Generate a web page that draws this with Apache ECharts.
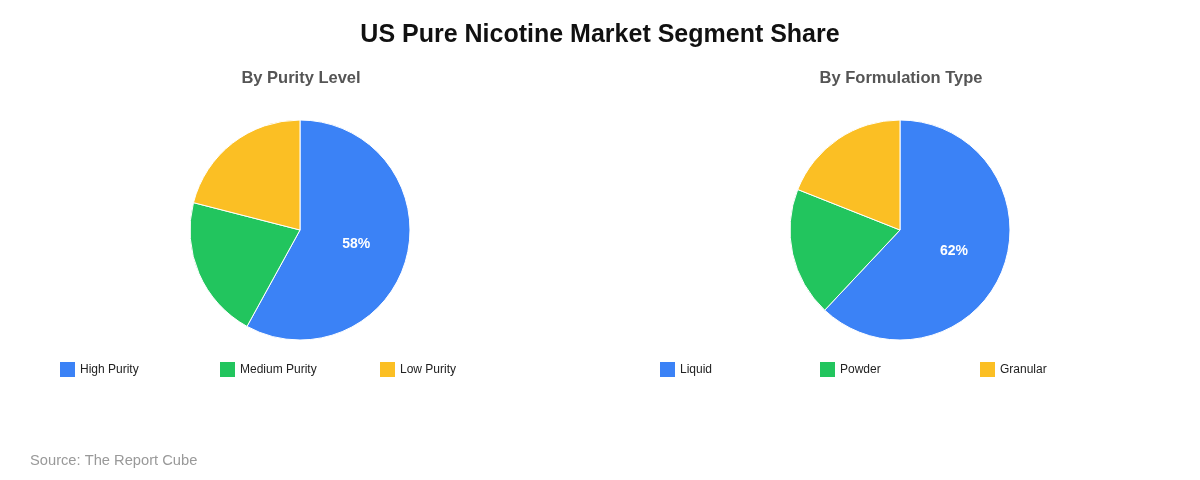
<!DOCTYPE html>
<html lang="en">
<head>
    <meta charset="UTF-8">
    <title>US Pure Nicotine Market Segment Share</title>
    <script src="https://cdn.jsdelivr.net/npm/echarts@6/dist/echarts.min.js"></script>
</head>
<body style="margin: 0">
<div id="main" style="width: 1200px; height: 480px"></div>

<script type="text/javascript">
    // data
    var purityNames = ['High Purity', 'Medium Purity', 'Low Purity'];
    var purityValues = [58, 21, 21];
    var formNames = ['Liquid', 'Powder', 'Granular'];
    var formValues = [62, 19, 19];
    var sliceColors = ['#3b82f6', '#22c55e', '#fbbf24'];

    var font = "'Liberation Sans', Arial, sans-serif";

    // only the biggest slice carries a label
    function buildData(names, values) {
        return names.map(function (n, i) {
            return {
                name: n,
                value: values[i],
                label: { show: i === 0 }
            };
        });
    }

    function pieSeries(names, values, cx) {
        return {
            type: 'pie',
            center: [cx, 230],
            radius: 110,
            startAngle: 90,
            clockwise: true,
            avoidLabelOverlap: false,
            itemStyle: { borderColor: '#fff', borderWidth: 1 },
            label: {
                position: 'inside',
                formatter: '{d}%',
                color: '#fff',
                fontSize: 14,
                fontWeight: 'bold',
                fontFamily: font
            },
            labelLine: { show: false },
            emphasis: { disabled: true },
            data: buildData(names, values)
        };
    }

    // one legend per item so they sit on a fixed 160px step
    function legends(names, left) {
        return names.map(function (n, i) {
            return {
                data: [n],
                left: left + i * 160,
                top: 362,
                padding: 0,
                itemWidth: 15,
                itemHeight: 15,
                itemGap: 5,
                icon: 'rect',
                itemStyle: { borderWidth: 0 },
                textStyle: {
                    fontSize: 12,
                    color: '#222',
                    fontFamily: font
                }
            };
        });
    }

    var chart = echarts.init(document.getElementById('main'));

    var option = {
        color: sliceColors,
        animation: false,
        title: [
            {
                text: 'US Pure Nicotine Market Segment Share',
                left: 'center',
                top: 18,
                textStyle: { fontSize: 25, fontWeight: 'bold', color: '#111', fontFamily: font }
            },
            {
                text: 'By Purity Level',
                left: 301,
                textAlign: 'center',
                top: 70,
                padding: 0,
                textStyle: { fontSize: 16.5, fontWeight: 'bold', color: '#555', fontFamily: font }
            },
            {
                text: 'By Formulation Type',
                left: 901,
                textAlign: 'center',
                top: 70,
                padding: 0,
                textStyle: { fontSize: 16.5, fontWeight: 'bold', color: '#555', fontFamily: font }
            },
            {
                text: 'Source: The Report Cube',
                left: 30,
                top: 453,
                padding: 0,
                textStyle: { fontSize: 14.7, fontWeight: 'normal', color: '#999', fontFamily: font }
            }
        ],
        legend: legends(purityNames, 60).concat(legends(formNames, 660)),
        series: [
            pieSeries(purityNames, purityValues, 300),
            pieSeries(formNames, formValues, 900)
        ]
    };

    chart.setOption(option);
</script>
</body>
</html>
